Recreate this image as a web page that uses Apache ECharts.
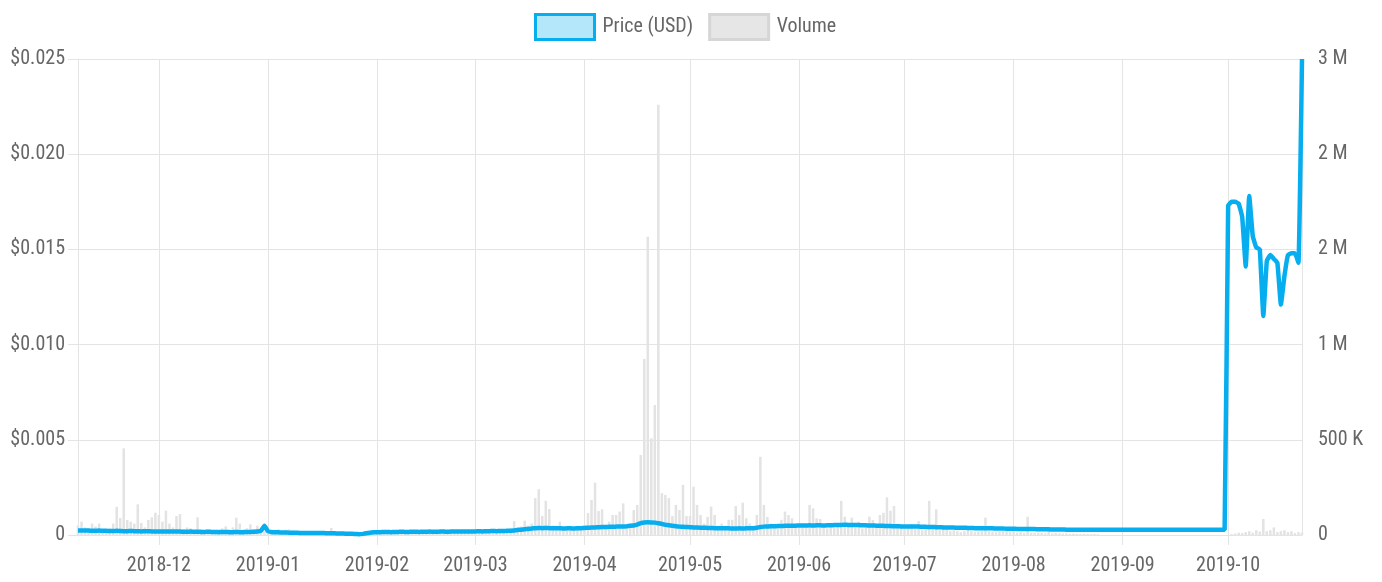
<!DOCTYPE html>
<html>
<head>
<meta charset="utf-8">
<script src="https://cdn.jsdelivr.net/npm/echarts@6/dist/echarts.min.js"></script>
<style>
  html, body { margin: 0; padding: 0; background: #fff; }
  #price-chart { width: 1382px; height: 582px; }
</style>
</head>
<body>
<div id="price-chart"></div>
<script>
// months on the x axis, first day of each block (data starts 2018-11-08)
const months = ["2018-11", "2018-12", "2019-01", "2019-02", "2019-03", "2019-04",
  "2019-05", "2019-06", "2019-07", "2019-08", "2019-09", "2019-10"];
const firstDays = [8, 1, 1, 1, 1, 1, 1, 1, 1, 1, 1, 1];

// daily price, USD
const priceNov = [0.00024,0.00024,0.00023,0.00023,0.00022,0.00022,0.00023,0.00022,0.00022,0.00021,0.00021,0.00022,0.00021,0.00020,0.00020,0.00021,0.00020,0.00020,0.00019,0.00020,0.00020,0.00019,0.00019];
const priceDec = [0.00019,0.00019,0.00018,0.00018,0.00019,0.00018,0.00018,0.00017,0.00017,0.00018,0.00017,0.00017,0.00016,0.00016,0.00017,0.00016,0.00016,0.00015,0.00016,0.00016,0.00015,0.00015,0.00016,0.00015,0.00015,0.00016,0.00016,0.00017,0.00018,0.00022,0.00048];
const priceJan = [0.00020,0.00015,0.00014,0.00014,0.00013,0.00013,0.00012,0.00012,0.00012,0.00011,0.00011,0.00011,0.00010,0.00010,0.00010,0.00010,0.00010,0.00009,0.00009,0.00009,0.00008,0.00008,0.00007,0.00007,0.00006,0.00005,0.00004,0.00006,0.00009,0.00012,0.00014];
const priceFeb = [0.00015,0.00015,0.00016,0.00016,0.00015,0.00016,0.00016,0.00017,0.00016,0.00016,0.00017,0.00017,0.00016,0.00017,0.00017,0.00018,0.00017,0.00017,0.00018,0.00018,0.00017,0.00018,0.00018,0.00019,0.00018,0.00019,0.00019,0.00019];
const priceMar = [0.00019,0.00020,0.00019,0.00020,0.00020,0.00021,0.00020,0.00021,0.00021,0.00022,0.00022,0.00024,0.00026,0.00028,0.00030,0.00032,0.00034,0.00036,0.00037,0.00036,0.00037,0.00036,0.00035,0.00036,0.00035,0.00034,0.00035,0.00035,0.00034,0.00035,0.00036];
const priceApr = [0.00037,0.00038,0.00039,0.00040,0.00041,0.00042,0.00042,0.00043,0.00043,0.00044,0.00045,0.00045,0.00046,0.00048,0.00050,0.00055,0.00062,0.00066,0.00067,0.00066,0.00065,0.00062,0.00058,0.00054,0.00051,0.00048,0.00046,0.00044,0.00043,0.00042];
const priceMay = [0.00041,0.00040,0.00039,0.00038,0.00038,0.00037,0.00037,0.00036,0.00036,0.00035,0.00035,0.00035,0.00034,0.00034,0.00035,0.00034,0.00035,0.00035,0.00036,0.00038,0.00042,0.00044,0.00045,0.00046,0.00046,0.00047,0.00047,0.00048,0.00048,0.00049,0.00049];
const priceJun = [0.00050,0.00050,0.00050,0.00051,0.00050,0.00051,0.00051,0.00050,0.00051,0.00051,0.00052,0.00052,0.00053,0.00054,0.00053,0.00053,0.00052,0.00052,0.00051,0.00051,0.00050,0.00050,0.00049,0.00049,0.00048,0.00047,0.00047,0.00046,0.00046,0.00045];
const priceJul = [0.00045,0.00044,0.00045,0.00044,0.00044,0.00043,0.00043,0.00042,0.00042,0.00041,0.00041,0.00040,0.00040,0.00039,0.00039,0.00038,0.00038,0.00038,0.00037,0.00037,0.00036,0.00036,0.00036,0.00035,0.00035,0.00035,0.00034,0.00034,0.00034,0.00033,0.00033];
const priceAug = [0.00033,0.00032,0.00032,0.00032,0.00031,0.00031,0.00031,0.00030,0.00030,0.00030,0.00030,0.00029,0.00029,0.00029,0.00029,0.00028,0.00028,0.00028,0.00028,0.00028,0.00028,0.00028,0.00028,0.00028,0.00028,0.00028,0.00028,0.00028,0.00028,0.00028,0.00028];
const priceSep = [0.00028,0.00028,0.00028,0.00028,0.00028,0.00028,0.00028,0.00028,0.00028,0.00028,0.00028,0.00028,0.00028,0.00028,0.00028,0.00028,0.00028,0.00028,0.00028,0.00028,0.00028,0.00028,0.00028,0.00028,0.00028,0.00028,0.00028,0.00028,0.00028,0.00028];
const priceOct = [0.0173,0.0175,0.0175,0.0174,0.0167,0.0141,0.0178,0.0157,0.0151,0.0150,0.0115,0.0144,0.0147,0.0145,0.0143,0.0121,0.0136,0.0147,0.0148,0.0148,0.0143,0.0250];

// daily volume
const volNov = [50000,70000,40000,35000,60000,45000,60000,30000,25000,35000,60000,148000,89000,455000,79000,70000,60000,161000,63000,40000,79000,93000,117000];
const volDec = [105000,70000,128000,60000,40000,100000,110000,30000,40000,35000,25000,93000,30000,25000,30000,20000,25000,30000,35000,45000,30000,40000,91000,60000,30000,35000,56000,30000,49000,30000,20000];
const volJan = [25000,30000,28000,30000,25000,28000,30000,25000,22000,20000,12000,10000,8000,10000,9000,8000,10000,12000,37000,10000,8000,9000,8000,7000,8000,6000,7000,8000,9000,10000,8000];
const volFeb = [10000,9000,8000,10000,12000,9000,8000,10000,11000,9000,8000,10000,9000,11000,12000,10000,9000,10000,12000,11000,10000,12000,13000,11000,12000,14000,13000,15000];
const volMar = [15000,18000,20000,25000,30000,20000,22000,18000,25000,30000,35000,73000,40000,45000,75000,50000,60000,194000,240000,100000,180000,136000,50000,40000,70000,35000,30000,45000,40000,35000,40000];
const volApr = [50000,115000,184000,275000,126000,135000,50000,70000,105000,105000,123000,166000,50000,60000,131000,158000,420000,925000,1566000,508000,683000,2260000,220000,210000,194000,100000,158000,131000,263000,100000];
const volMay = [100000,254000,158000,105000,60000,95000,149000,105000,45000,60000,40000,80000,80000,152000,105000,170000,88000,60000,40000,105000,411000,158000,95000,60000,40000,35000,80000,123000,105000,88000,50000];
const volJun = [50000,40000,60000,158000,140000,88000,84000,40000,35000,45000,40000,50000,179000,96000,45000,91000,40000,70000,35000,40000,96000,79000,50000,105000,117000,198000,128000,152000,40000,56000];
const volJul = [30000,40000,56000,30000,73000,25000,30000,179000,30000,135000,25000,50000,30000,20000,25000,20000,15000,20000,35000,20000,15000,18000,20000,91000,20000,15000,15000,18000,20000,40000,15000];
const volAug = [15000,12000,15000,10000,96000,12000,10000,12000,10000,8000,35000,8000,10000,8000,7000,8000,6000,7000,6000,5000,6000,5000,4000,5000,4000,0,0,0,0,0,0];
const volSep = [0,0,0,0,0,0,0,0,0,0,0,0,0,0,0,0,0,0,0,0,0,0,0,0,0,0,0,0,0,0];
const volOct = [0,5000,8000,12000,10000,15000,20000,12000,25000,18000,84000,20000,25000,40000,15000,20000,25000,15000,20000,10000,15000,12000];

const priceMonths = [priceNov, priceDec, priceJan, priceFeb, priceMar, priceApr, priceMay, priceJun, priceJul, priceAug, priceSep, priceOct];
const volMonths = [volNov, volDec, volJan, volFeb, volMar, volApr, volMay, volJun, volJul, volAug, volSep, volOct];

let dates = [];
let prices = [];
let volumes = [];
months.forEach((m, i) => {
  priceMonths[i].forEach((p, k) => {
    dates.push(m + "-" + String(firstDays[i] + k).padStart(2, "0"));
    prices.push(p);
    volumes.push(volMonths[i][k]);
  });
});

const font = "'Liberation Sans Narrow', 'Roboto Condensed', Roboto, sans-serif";
const gridColor = "#e4e4e4";
const isMonthStart = (index, value) => value.slice(8) === "01";

const myChart = echarts.init(document.getElementById("price-chart"));
let option = {
  animation: false,
  textStyle: { fontFamily: font },
  legend: {
    left: 529,
    top: 8,
    itemWidth: 59,
    itemHeight: 25,
    itemGap: 15,
    textStyle: { fontFamily: font, fontSize: 20, color: "#666", padding: [0, 0, 0, 3] },
    data: [
      {
        name: "Price (USD)",
        icon: "rect",
        itemStyle: { color: "rgba(6,174,240,0.3)", borderColor: "#06aef0", borderWidth: 3 },
      },
      {
        name: "Volume",
        icon: "rect",
        itemStyle: { color: "#e6e6e6", borderColor: "#d6d6d6", borderWidth: 3 },
      },
    ],
  },
  grid: { left: 78, right: 80, top: 59, bottom: 47 },
  xAxis: {
    type: "category",
    data: dates,
    boundaryGap: false,
    axisLine: { show: true, lineStyle: { color: gridColor } },
    axisTick: { show: true, interval: isMonthStart, length: 10, lineStyle: { color: gridColor } },
    splitLine: { show: true, interval: isMonthStart, lineStyle: { color: gridColor } },
    axisLabel: {
      interval: isMonthStart,
      formatter: (value) => value.slice(0, 7),
      fontFamily: font,
      fontSize: 20,
      color: "#666",
      margin: 21,
    },
  },
  yAxis: [
    {
      type: "value",
      min: 0,
      max: 0.025,
      interval: 0.005,
      axisLine: { show: true, lineStyle: { color: gridColor } },
      axisTick: { show: true, length: 10, lineStyle: { color: gridColor } },
      splitLine: { show: true, lineStyle: { color: gridColor } },
      axisLabel: {
        formatter: (v) => (v === 0 ? "0" : "$" + v.toFixed(3)),
        fontFamily: font,
        fontSize: 20,
        color: "#666",
        margin: 13,
      },
    },
    {
      type: "value",
      min: 0,
      max: 2500000,
      interval: 500000,
      position: "right",
      axisLine: { show: true, lineStyle: { color: gridColor } },
      axisTick: { show: false },
      splitLine: { show: false },
      axisLabel: {
        // rounded like the source chart: 1.5M -> "2 M", 2.5M -> "3 M"
        formatter: (v) => {
          if (v >= 1000000) return Math.round(v / 1000000) + " M";
          if (v >= 1000) return Math.round(v / 1000) + " K";
          return String(v);
        },
        fontFamily: font,
        fontSize: 20,
        color: "#666",
        margin: 16,
      },
    },
  ],
  series: [
    {
      name: "Volume",
      type: "bar",
      yAxisIndex: 1,
      data: volumes,
      barWidth: 2.5,
      itemStyle: { color: "#e3e3e3" },
      z: 1,
    },
    {
      name: "Price (USD)",
      type: "line",
      yAxisIndex: 0,
      data: prices,
      showSymbol: false,
      symbol: "none",
      smooth: 0.1,
      lineStyle: { color: "#06aef0", width: 4.5 },
      itemStyle: { color: "#06aef0" },
      z: 3,
    },
  ],
};
option && myChart.setOption(option);
</script>
</body>
</html>
